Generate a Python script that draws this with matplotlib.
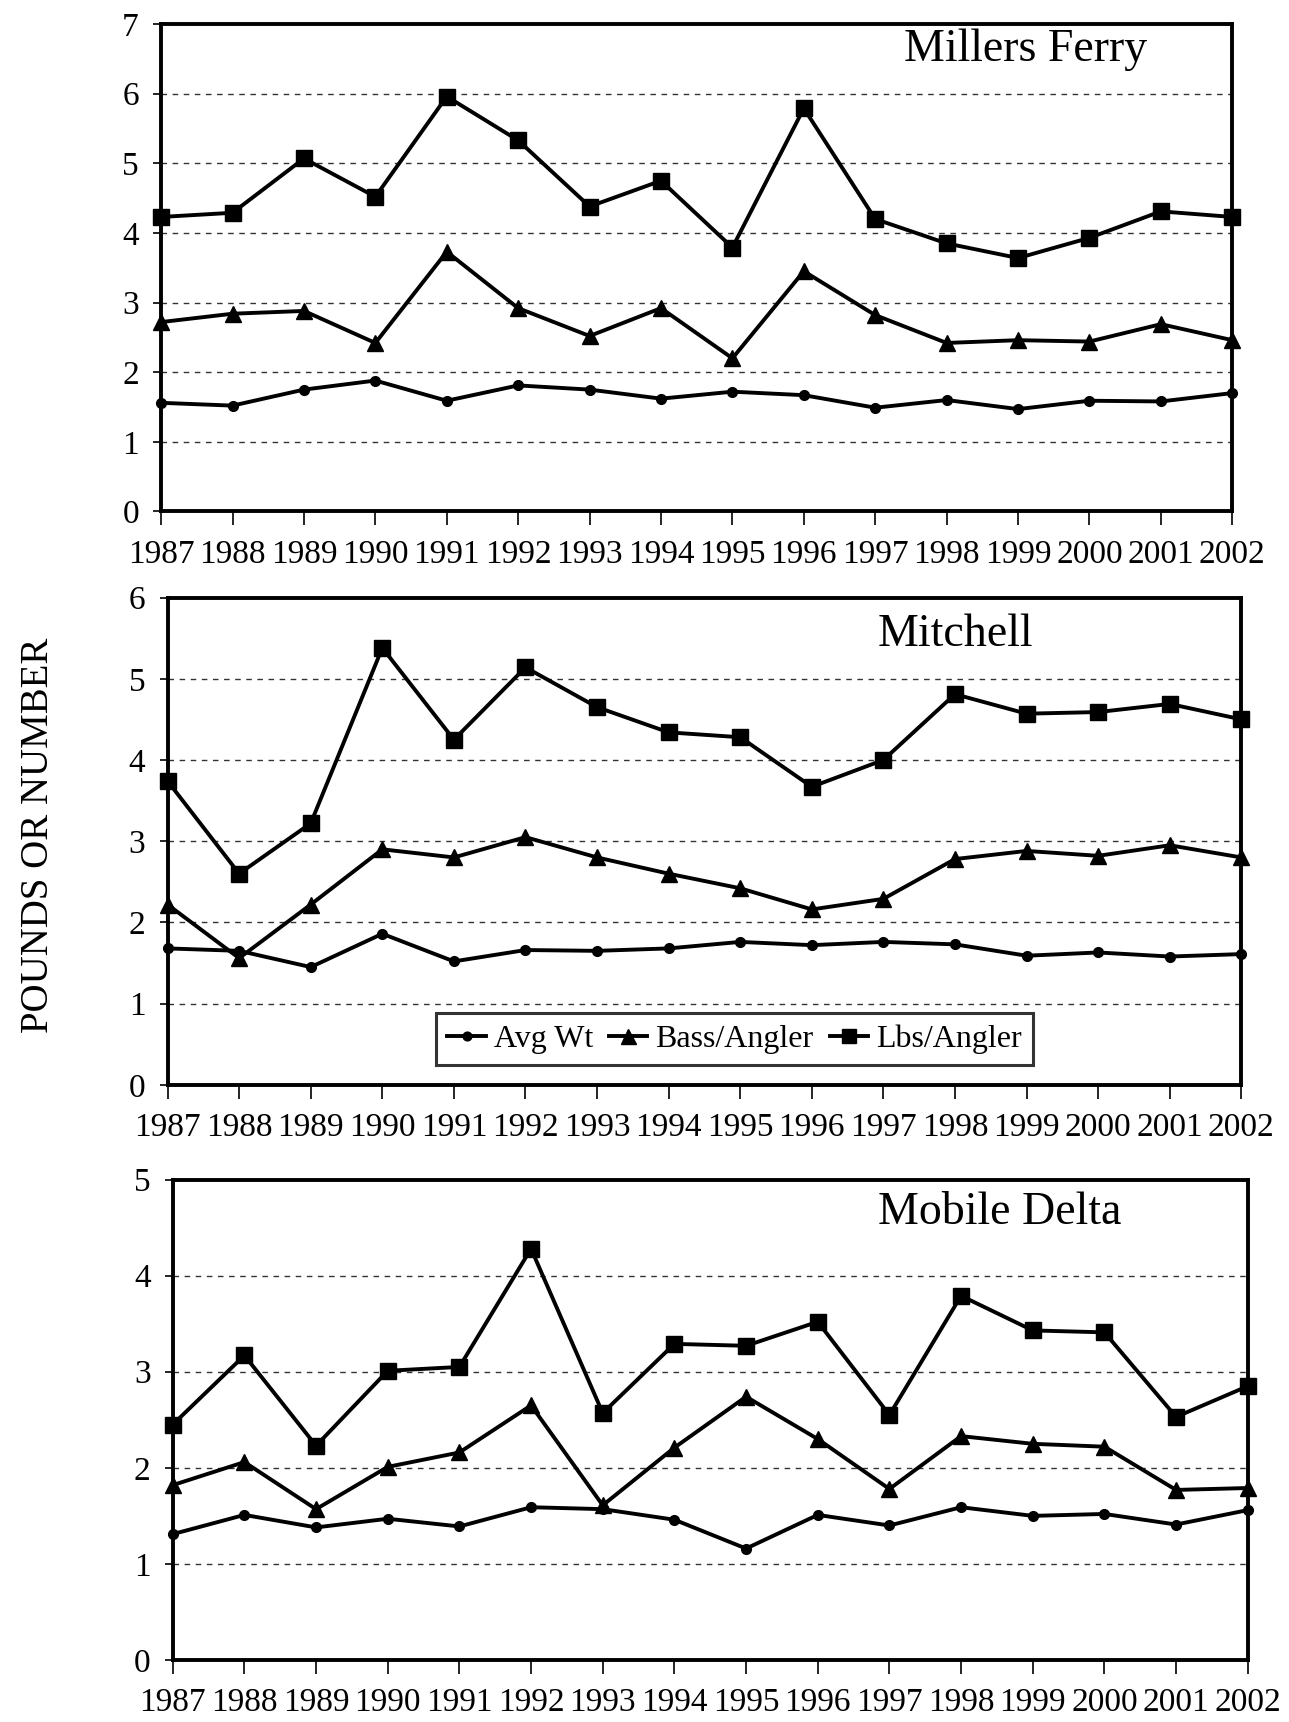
import numpy as np
import matplotlib
matplotlib.use("Agg")
import matplotlib.pyplot as plt

plt.rcParams['font.family'] = ['Liberation Serif', 'DejaVu Serif']

years = list(range(1987, 2003))

# Millers Ferry
mf_avg_wt = [1.56, 1.52, 1.75, 1.88, 1.59, 1.81, 1.75, 1.62, 1.72, 1.67, 1.49, 1.60, 1.47, 1.59, 1.58, 1.70]
mf_bass = [2.72, 2.84, 2.88, 2.42, 3.73, 2.92, 2.52, 2.92, 2.20, 3.45, 2.82, 2.42, 2.46, 2.44, 2.69, 2.46]
mf_lbs = [4.23, 4.29, 5.07, 4.52, 5.96, 5.33, 4.38, 4.75, 3.79, 5.79, 4.20, 3.85, 3.64, 3.93, 4.31, 4.23]

# Mitchell
mi_avg_wt = [1.68, 1.65, 1.45, 1.86, 1.52, 1.66, 1.65, 1.68, 1.76, 1.72, 1.76, 1.73, 1.59, 1.63, 1.58, 1.61]
mi_bass = [2.22, 1.56, 2.22, 2.90, 2.80, 3.05, 2.80, 2.60, 2.42, 2.16, 2.29, 2.78, 2.88, 2.82, 2.95, 2.80]
mi_lbs = [3.74, 2.60, 3.22, 5.38, 4.25, 5.14, 4.65, 4.34, 4.28, 3.67, 4.00, 4.81, 4.57, 4.59, 4.69, 4.50]

# Mobile Delta
md_avg_wt = [1.31, 1.51, 1.38, 1.47, 1.39, 1.59, 1.57, 1.46, 1.16, 1.51, 1.40, 1.59, 1.50, 1.52, 1.41, 1.56]
md_bass = [1.82, 2.06, 1.57, 2.01, 2.16, 2.65, 1.61, 2.21, 2.74, 2.30, 1.78, 2.33, 2.25, 2.22, 1.77, 1.79]
md_lbs = [2.45, 3.17, 2.23, 3.01, 3.05, 4.28, 2.57, 3.29, 3.27, 3.52, 2.55, 3.79, 3.43, 3.41, 2.53, 2.85]

series_names = ["Avg Wt", "Bass/Angler", "Lbs/Angler"]
markers = ["o", "^", "s"]
marker_sizes = [7, 12, 11]

panels = [
    ("Millers Ferry", [mf_avg_wt, mf_bass, mf_lbs], 7, [0.125, 0.703, 0.831, 0.283], (0.807, 0.947)),
    ("Mitchell", [mi_avg_wt, mi_bass, mi_lbs], 6, [0.130, 0.370, 0.833, 0.283], (0.734, 0.924)),
    ("Mobile Delta", [md_avg_wt, md_bass, md_lbs], 5, [0.134, 0.036, 0.834, 0.279], (0.769, 0.931)),
]

fig = plt.figure(figsize=(12.89, 17.22), dpi=100)

for i, (title, data, ymax, rect, tpos) in enumerate(panels):
    ax = fig.add_axes(rect)
    for vals, name, mk, ms in zip(data, series_names, markers, marker_sizes):
        ax.plot(years, vals, color='black', lw=2.8, marker=mk, ms=ms,
                mfc='black', mec='black', label=name, clip_on=False, zorder=3)
    ax.set_xlim(1987, 2002)
    ax.set_ylim(0, ymax)
    ax.set_xticks(years)
    ax.set_xticklabels([str(y) for y in years], fontsize=24)
    ax.set_yticks(range(0, ymax + 1))
    ax.tick_params(axis='y', labelsize=24, direction='out', length=6, width=1.2, pad=10)
    ax.tick_params(axis='x', direction='out', length=10, width=1.2, pad=10)
    for v in range(1, ymax):
        ax.axhline(v, color='#333333', lw=1.0, ls=(0, (4, 4)), zorder=1)
    for sp in ax.spines.values():
        sp.set_linewidth(2.8)
        sp.set_color('black')
    ax.text(tpos[0], tpos[1], title, transform=ax.transAxes, ha='center',
            va='center', fontsize=33)
    if i == 1:
        leg = ax.legend(loc='center', bbox_to_anchor=(0.528, 0.094), ncol=3,
                        fontsize=23, frameon=True, fancybox=False, handlelength=1.2,
                        handletextpad=0.25, columnspacing=0.5, borderpad=0.35,
                        markerscale=0.9)
        leg.get_frame().set_edgecolor('black')
        leg.get_frame().set_linewidth(2.2)

fig.text(0.03, 0.515, "POUNDS OR NUMBER", rotation=90, ha='center', va='center',
         fontsize=28)

fig.savefig("out.png", dpi=100, facecolor='white')
